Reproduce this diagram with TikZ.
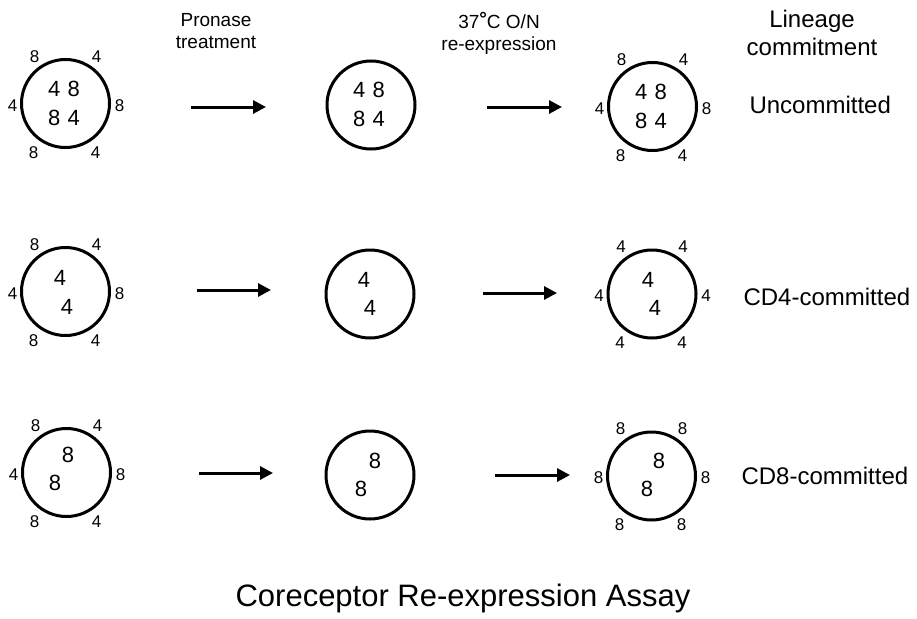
\documentclass[tikz,border=0pt]{standalone}
\usepackage{fontspec}
\setmainfont{Liberation Sans}
\usetikzlibrary{arrows.meta}

\newcommand{\cellmarks}[7]{%
  \node[mk] (#1-tl) at ([shift={(-31,-47)}]#1.center) {#2};
  \node[mk] (#1-tr) at ([shift={(31,-47)}]#1.center) {#3};
  \node[mk] (#1-l)  at ([shift={(-53,2)}]#1.center) {#4};
  \node[mk] (#1-r)  at ([shift={(54,2)}]#1.center) {#5};
  \node[mk] (#1-bl) at ([shift={(-32,49)}]#1.center) {#6};
  \node[mk] (#1-br) at ([shift={(30,49)}]#1.center) {#7};
}

\begin{document}
\begin{tikzpicture}[x=1pt,y=-1pt,
  cell/.style={circle, draw, line width=3pt, minimum size=88pt, inner sep=0pt},
  mk/.style={inner sep=0pt, font=\fontsize{17}{17}\selectfont},
  inner/.style={inner sep=0pt, font=\fontsize{22}{22}\selectfont},
  head/.style={align=center, font=\fontsize{19}{22}\selectfont},
  lab/.style={font=\fontsize{24}{28}\selectfont},
  arr/.style={line width=3pt, -{Triangle[length=13pt,width=13pt]}}]
\useasboundingbox (0,0) rectangle (917,618);

% column headings
\node[head] (hpro) at (216,31) {Pronase\\treatment};
\node[head] (hre) at (499,33) {37\raisebox{3pt}{\textbf{°}}C O/N\\re-expression};
\node[lab, align=center] (hlin) at (812,33) {Lineage\\commitment};

% row 1: uncommitted
\node[cell] (c11) at (65.5,103.5) {};
\node[inner] (c11-a) at (64,89) {4\,\,8};
\node[inner] (c11-b) at (64,118) {8\,\,4};
\cellmarks{c11}{8}{4}{4}{8}{8}{4}
\node[cell] (c12) at (371,105) {};
\node[inner] (c12-a) at (369,90) {4\,\,8};
\node[inner] (c12-b) at (369,119) {8\,\,4};
\node[cell] (c13) at (652.5,106.5) {};
\node[inner] (c13-a) at (651,92) {4\,\,8};
\node[inner] (c13-b) at (651,121) {8\,\,4};
\cellmarks{c13}{8}{4}{4}{8}{8}{4}
\node[lab, anchor=west] (l1) at (746,105) {Uncommitted};

\coordinate (a11s) at (191,107); \coordinate (a11e) at (266,107);
\coordinate (a12s) at (487,107); \coordinate (a12e) at (562,107);
\draw[arr] (a11s) -- (a11e);
\draw[arr] (a12s) -- (a12e);

% row 2: CD4-committed
\node[cell] (c21) at (65.5,291.5) {};
\node[inner] (c21-a) at (60,278) {4};
\node[inner] (c21-b) at (67,307) {4};
\cellmarks{c21}{8}{4}{4}{8}{8}{4}
\node[cell] (c22) at (370,294) {};
\node[inner] (c22-a) at (364,280) {4};
\node[inner] (c22-b) at (370,308) {4};
\node[cell] (c23) at (652,294) {};
\node[inner] (c23-a) at (648,280) {4};
\node[inner] (c23-b) at (655,308) {4};
\cellmarks{c23}{4}{4}{4}{4}{4}{4}
\node[lab, anchor=west] (l2) at (740,297) {CD4-committed};

\coordinate (a21s) at (197,290); \coordinate (a21e) at (271,290);
\coordinate (a22s) at (483,293); \coordinate (a22e) at (557,293);
\draw[arr] (a21s) -- (a21e);
\draw[arr] (a22s) -- (a22e);

% row 3: CD8-committed
\node[cell] (c31) at (66.5,472.5) {};
\node[inner] (c31-a) at (68,455) {8};
\node[inner] (c31-b) at (55,483) {8};
\cellmarks{c31}{8}{4}{4}{8}{8}{4}
\node[cell] (c32) at (370,475) {};
\node[inner] (c32-a) at (375,461) {8};
\node[inner] (c32-b) at (361,489) {8};
\node[cell] (c33) at (651.5,476) {};
\node[inner] (c33-a) at (659,461) {8};
\node[inner] (c33-b) at (647,489) {8};
\cellmarks{c33}{8}{8}{8}{8}{8}{8}
\node[lab, anchor=west] (l3) at (738,476) {CD8-committed};

\coordinate (a31s) at (199,473); \coordinate (a31e) at (273,473);
\coordinate (a32s) at (495,475); \coordinate (a32e) at (570,475);
\draw[arr] (a31s) -- (a31e);
\draw[arr] (a32s) -- (a32e);

% title
\node[font=\fontsize{31}{36}\selectfont] (title) at (463,598) {Coreceptor Re-expression Assay};
\end{tikzpicture}
\end{document}
